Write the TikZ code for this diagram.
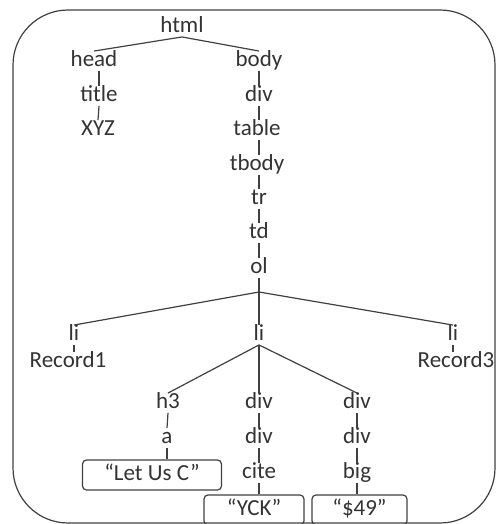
\documentclass[tikz,border=0pt]{standalone}
\usepackage{fontspec}
\setmainfont{Carlito}
\begin{document}
\begin{tikzpicture}[x=1pt,y=-1pt,
  elem/.style={inner xsep=1pt,inner ysep=0pt,text height=15.5pt,text depth=4pt,
    text=black!80,font=\fontsize{23}{27}\selectfont},
  leaf/.style={elem,draw=black!75,line width=1.2pt,rounded corners=4pt,minimum height=30pt},
  link/.style={draw=black!75,line width=1.2pt}]
  \useasboundingbox (0,0) rectangle (496,524);
  \draw[link,rounded corners=55pt]
    (13,10)
    rectangle
    (495,523);
  \node[elem] (html) at (182,27) {html};
  \node[elem] (head) at (94,61) {head};
  \node[elem] (body) at (259,61) {body};
  \node[elem] (title) at (99,96) {title};
  \node[elem] (xyz) at (98,130) {XYZ};
  \node[elem] (div1) at (259,96) {div};
  \node[elem] (table) at (257,130) {table};
  \node[elem] (tbody) at (257,165) {tbody};
  \node[elem] (tr) at (259,199) {tr};
  \node[elem] (td) at (259,233) {td};
  \node[elem] (ol) at (259,268) {ol};
  \coordinate (olj) at (259,292);
  \node[elem] (li1) at (74,335) {li};
  \node[elem] (li2) at (259,335) {li};
  \node[elem] (li3) at (453,335) {li};
  \node[elem] (rec1) at (68,362) {Record1};
  \node[elem] (rec3) at (456,362) {Record3};
  \node[elem] (h3) at (168,403) {h3};
  \node[elem] (div2) at (259,403) {div};
  \node[elem] (div3) at (357,403) {div};
  \node[elem] (a) at (167,438) {a};
  \node[elem] (div4) at (259,438) {div};
  \node[elem] (div5) at (357,438) {div};
  \node[elem] (cite) at (259,473) {cite};
  \node[elem] (big) at (357,473) {big};
  \node[leaf,minimum width=139pt] (letus) at (152,475) {“Let Us C”};
  \node[leaf,minimum width=100pt] (yck) at (254,510) {“YCK”};
  \node[leaf,minimum width=95pt] (price) at (359.5,510) {“\$49”};
  \draw[link]
    (head.north)
    --
    (html.south)
    --
    (body.north);
  \draw[link]
    (title.north |- head.south)
    --
    (title.north);
  \draw[link]
    (title.south)
    --
    (xyz.north);
  \draw[link]
    (body.south)
    --
    (div1.north);
  \draw[link]
    (div1.south)
    --
    (div1.south |- table.north);
  \draw[link]
    (div1.south |- table.south)
    --
    (div1.south |- tbody.north);
  \draw[link]
    (div1.south |- tbody.south)
    --
    (tr.north);
  \draw[link]
    (tr.south)
    --
    (td.north);
  \draw[link]
    (td.south)
    --
    (ol.north);
  \draw[link]
    (ol.south)
    --
    (olj)
    --
    (li2.north);
  \draw[link]
    (li1.north)
    --
    (olj)
    --
    (li3.north);
  \draw[link]
    (li1.south)
    --
    (li1.south |- rec1.north);
  \draw[link]
    (li3.south)
    --
    (li3.south |- rec3.north);
  \draw[link]
    (h3.north)
    --
    (li2.south)
    --
    (div3.north);
  \draw[link]
    (li2.south)
    --
    (div2.north);
  \draw[link]
    (h3.south)
    --
    (a.north);
  \draw[link]
    (a.south)
    --
    (a.south |- letus.north);
  \draw[link]
    (div2.south)
    --
    (div4.north);
  \draw[link]
    (div4.south)
    --
    (cite.north);
  \draw[link]
    (cite.south)
    --
    (cite.south |- yck.north);
  \draw[link]
    (div3.south)
    --
    (div5.north);
  \draw[link]
    (div5.south)
    --
    (big.north);
  \draw[link]
    (big.south)
    --
    (big.south |- price.north);
\end{tikzpicture}
\end{document}
